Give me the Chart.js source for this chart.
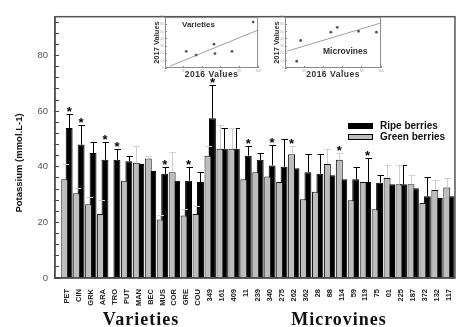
<!DOCTYPE html>
<html>
<head>
<meta charset="utf-8">
<script src="https://cdn.jsdelivr.net/npm/chart.js@4.4.1/dist/chart.umd.min.js"></script>
<style>
  html, body { margin: 0; padding: 0; background: #fff; }
  #wrap { position: relative; width: 461px; height: 327px; overflow: hidden; }
  canvas { position: absolute; }
</style>
</head>
<body>
<div id="wrap">
  <canvas id="main" width="461" height="327" style="left:0;top:0"></canvas>
  <canvas id="inVar" width="116" height="70" style="left:148px;top:12px"></canvas>
  <canvas id="inMic" width="129" height="70" style="left:258px;top:12px"></canvas>
</div>
<script>
// ---- data ----
const categories = ['PET','CIN','GRK','ARA','TRO','PUT','MAN','BEC','MUS','COR','GRE','COU',
  '349','161','409','11','239','340','275','262','362','28','88','114','59','119','75','01','225','187','372','132','117'];
const ripe     = [54, 48, 45, 42.5, 42.5, 42, 41, 38.5, 37.5, 35, 35, 34.5,
  57.5, 46.5, 46.5, 44, 42.5, 40.5, 40, 39.5, 38, 37.5, 37, 35.5, 35.5, 34.5, 34.3, 33.7, 33.7, 32.3, 29.4, 28.8, 29.4];
const green    = [35.5, 30.5, 26.5, 23, null, 35, 41.5, 43, 21, 38, 22.5, 23,
  44, 46.5, 46.5, 35.5, 38, 36.5, 34.5, 44.5, 28.3, 31, 41, 42.5, 28, 34.5, 24.7, 36, 33.7, 33.7, 27, 31.7, 32.6];
// upper end of the error bars
const ripeTop  = [59, 55, 49, 49, 46.5, 44, null, null, 40, null, 40, 38,
  69.5, 54, 54, 47.5, 45, 48, 50, null, 44.5, 44.5, null, null, 40, 43, 37, null, 40.5, null, 36.5, null, null];
const greenTop = [41, 32.5, 29, 28, null, null, 47.5, 44, 22.5, 45.5, 25, 26,
  47.5, 55, 54, null, null, null, null, 47.5, null, null, 46.5, 45, null, null, null, 40.5, 40.5, 37, null, 35.3, 36];
const starred  = ['PET','CIN','ARA','TRO','MUS','GRE','349','11','340','262','114','119'];
const yTicks   = [0, 20, 40, 60, 80];

// insets (2016 vs 2017)
const varX = [22.8, 33.4, 52.6, 53.7, 71.9, 94.7];
const varY = [22.9, 17.8, 32.8, 19.8, 22.9, 63.1];
const varFitX = [5.3, 100], varFitY = [2.6, 52.2];
const micX = [12.2, 16.3, 47.7, 54.4, 76.5, 95.2];
const micY = [9.3, 37.8, 49.3, 56, 50.5, 49.3];
const micFitX = [1.7, 100], micFitY = [22.9, 62];

const idx = categories.map((c, i) => i);

const decor = {
  id: 'decor',
  afterDatasetsDraw(chart) {
    const { ctx, chartArea: a, scales: { y } } = chart;
    ctx.save();
    // error bars, ripe first, green over it
    [1, 0].forEach(di => {
      const ds = chart.data.datasets[di], meta = chart.getDatasetMeta(di);
      ctx.strokeStyle = ds.errColor;
      ctx.lineWidth = 1;
      meta.data.forEach((bar, i) => {
        const t = ds.top[i];
        if (t == null || ds.data[i].y == null) return;
        const yt = Math.round(y.getPixelForValue(t)) + 0.5;
        const bx = Math.round(bar.x) + 0.5;
        ctx.beginPath();
        ctx.moveTo(bx, bar.y); ctx.lineTo(bx, yt);
        ctx.moveTo(bx - 3, yt); ctx.lineTo(bx + 3.5, yt);
        ctx.stroke();
      });
    });
    // significance stars
    ctx.fillStyle = '#000';
    ctx.font = 'bold 13px Arial';
    ctx.textAlign = 'center';
    ctx.textBaseline = 'alphabetic';
    starred.forEach(lbl => {
      const i = categories.indexOf(lbl);
      const g = (green[i] ?? 0) > ripe[i];
      const bar = chart.getDatasetMeta(g ? 0 : 1).data[i];
      const t = g ? (greenTop[i] ?? green[i]) : (ripeTop[i] ?? ripe[i]);
      ctx.fillText('*', bar.x, y.getPixelForValue(t) + 2);
    });
    // frame
    ctx.strokeStyle = '#555';
    ctx.lineWidth = 1.5;
    ctx.strokeRect(a.left, a.top, a.right - a.left, a.bottom - a.top);
    // legend
    const ds = chart.data.datasets;
    ctx.font = 'bold 10px Arial';
    ctx.textAlign = 'left';
    ctx.textBaseline = 'middle';
    [[1, 126], [0, 137]].forEach(([di, yy]) => {
      ctx.fillStyle = ds[di].backgroundColor;
      ctx.fillRect(348, yy - 3, 25, 6);
      ctx.strokeStyle = '#000';
      ctx.lineWidth = 1;
      ctx.strokeRect(348.5, yy - 2.5, 24, 5);
      ctx.fillStyle = '#111';
      ctx.fillText(ds[di].label, 380, yy);
    });
    // group names
    ctx.font = 'bold 18px "Liberation Serif", serif';
    ctx.letterSpacing = '1px';
    ctx.textAlign = 'center';
    ctx.textBaseline = 'alphabetic';
    ctx.fillStyle = '#111';
    ctx.fillText('Varieties', 141, 325);
    ctx.fillText('Microvines', 339, 325);
    ctx.letterSpacing = '0px';
    // y title
    ctx.translate(19, 163);
    ctx.rotate(-Math.PI / 2);
    ctx.font = 'bold 9.5px Arial';
    ctx.textBaseline = 'middle';
    ctx.fillText('Potassium (mmol.L-1)', 0, 0);
    ctx.restore();
  }
};

new Chart(document.getElementById('main'), {
  type: 'bar',
  data: {
    datasets: [
      { label: 'Green berries', data: idx.map(i => ({ x: i, y: green[i] })), backgroundColor: '#bdbdbd',
        borderColor: '#111', borderWidth: 1, top: greenTop, errColor: '#cfcfcf',
        categoryPercentage: 0.744, barPercentage: 1.56 },
      { label: 'Ripe berries', data: idx.map(i => ({ x: i, y: ripe[i] })), backgroundColor: '#000',
        borderColor: '#000', borderWidth: 1, top: ripeTop, errColor: '#000',
        categoryPercentage: 0.744, barPercentage: 1.56 }
    ]
  },
  options: {
    responsive: false,
    animation: false,
    layout: { padding: { left: 10, top: 12, right: 0.5, bottom: 0 } },
    plugins: { legend: { display: false }, tooltip: { enabled: false } },
    scales: {
      x: {
        type: 'linear', min: -1, max: 32.5, offset: false,
        grid: { display: false },
        border: { color: '#222', width: 1.5 },
        ticks: {
          stepSize: 1, includeBounds: false, autoSkip: false, minRotation: 90, maxRotation: 90, padding: 3,
          color: '#222', font: { family: 'Arial', size: 7.5, weight: 'bold' },
          callback: v => categories[v] ?? ''
        },
        afterFit: s => { s.height = 49; }
      },
      y: {
        min: 0, max: 94,
        grid: { drawOnChartArea: false, drawTicks: true, tickLength: -4, tickColor: '#444' },
        border: { color: '#444', width: 1.5 },
        ticks: {
          stepSize: 4, includeBounds: false, autoSkip: false, padding: 11,
          color: '#555', font: { family: 'Arial', size: 9.5 },
          callback: v => yTicks.includes(v) ? v : ''
        },
        afterFit: s => { s.width = 45; }
      }
    }
  },
  plugins: [decor]
});

function inset(id, xs, ys, fx, fy, yW, name, nameX, nameY, nameSize) {
  const deco = {
    id: 'insetDeco',
    afterDraw(chart) {
      const { ctx, chartArea: a } = chart;
      ctx.save();
      ctx.strokeStyle = '#8a8a8a';
      ctx.lineWidth = 1;
      ctx.strokeRect(a.left + 0.5, a.top + 0.5, a.right - a.left - 1, a.bottom - a.top - 1);
      ctx.fillStyle = '#333';
      ctx.font = 'bold ' + nameSize + 'px Arial';
      ctx.textAlign = 'left';
      ctx.textBaseline = 'middle';
      ctx.fillText(name, nameX, nameY);
      ctx.font = 'bold 8.5px Arial';
      ctx.letterSpacing = '0.5px';
      ctx.textAlign = 'center';
      ctx.fillText('2016 Values', (a.left + a.right) / 2, 63);
      ctx.letterSpacing = '0px';
      ctx.translate(yW - 8, (a.top + a.bottom) / 2);
      ctx.rotate(-Math.PI / 2);
      ctx.font = 'bold 7.5px Arial';
      ctx.fillText('2017 Values', 0, 0);
      ctx.restore();
    }
  };
  new Chart(document.getElementById(id), {
    type: 'scatter',
    data: {
      datasets: [
        { data: xs.map((v, i) => ({ x: v, y: ys[i] })), pointRadius: 1.4, backgroundColor: '#555', borderWidth: 0 },
        { type: 'line', data: fx.map((v, i) => ({ x: v, y: fy[i] })), borderColor: '#a0a0a0', borderWidth: 1, pointRadius: 0 }
      ]
    },
    options: {
      responsive: false, animation: false,
      layout: { padding: { left: 0, top: 1, right: 4, bottom: 0 } },
      plugins: { legend: { display: false }, tooltip: { enabled: false } },
      scales: {
        x: {
          min: 0, max: 100,
          grid: { drawOnChartArea: false, tickLength: -2, tickColor: '#888' },
          border: { display: false },
          ticks: { stepSize: 20, padding: 3, color: '#aaa', font: { size: 3.5 }, maxRotation: 0 },
          afterFit: s => { s.height = 14; }
        },
        y: {
          min: 0, max: 70,
          grid: { drawOnChartArea: false, tickLength: -2, tickColor: '#888' },
          border: { display: false },
          ticks: { stepSize: 10, padding: 3, color: '#aaa', font: { size: 3.5 } },
          afterFit: s => { s.width = yW; }
        }
      }
    },
    plugins: [deco]
  });
}

inset('inVar', varX, varY, varFitX, varFitY, 17, 'Varieties', 34, 13, 8);
inset('inMic', micX, micY, micFitX, micFitY, 27, 'Microvines', 65, 40, 8.5);
</script>
</body>
</html>
